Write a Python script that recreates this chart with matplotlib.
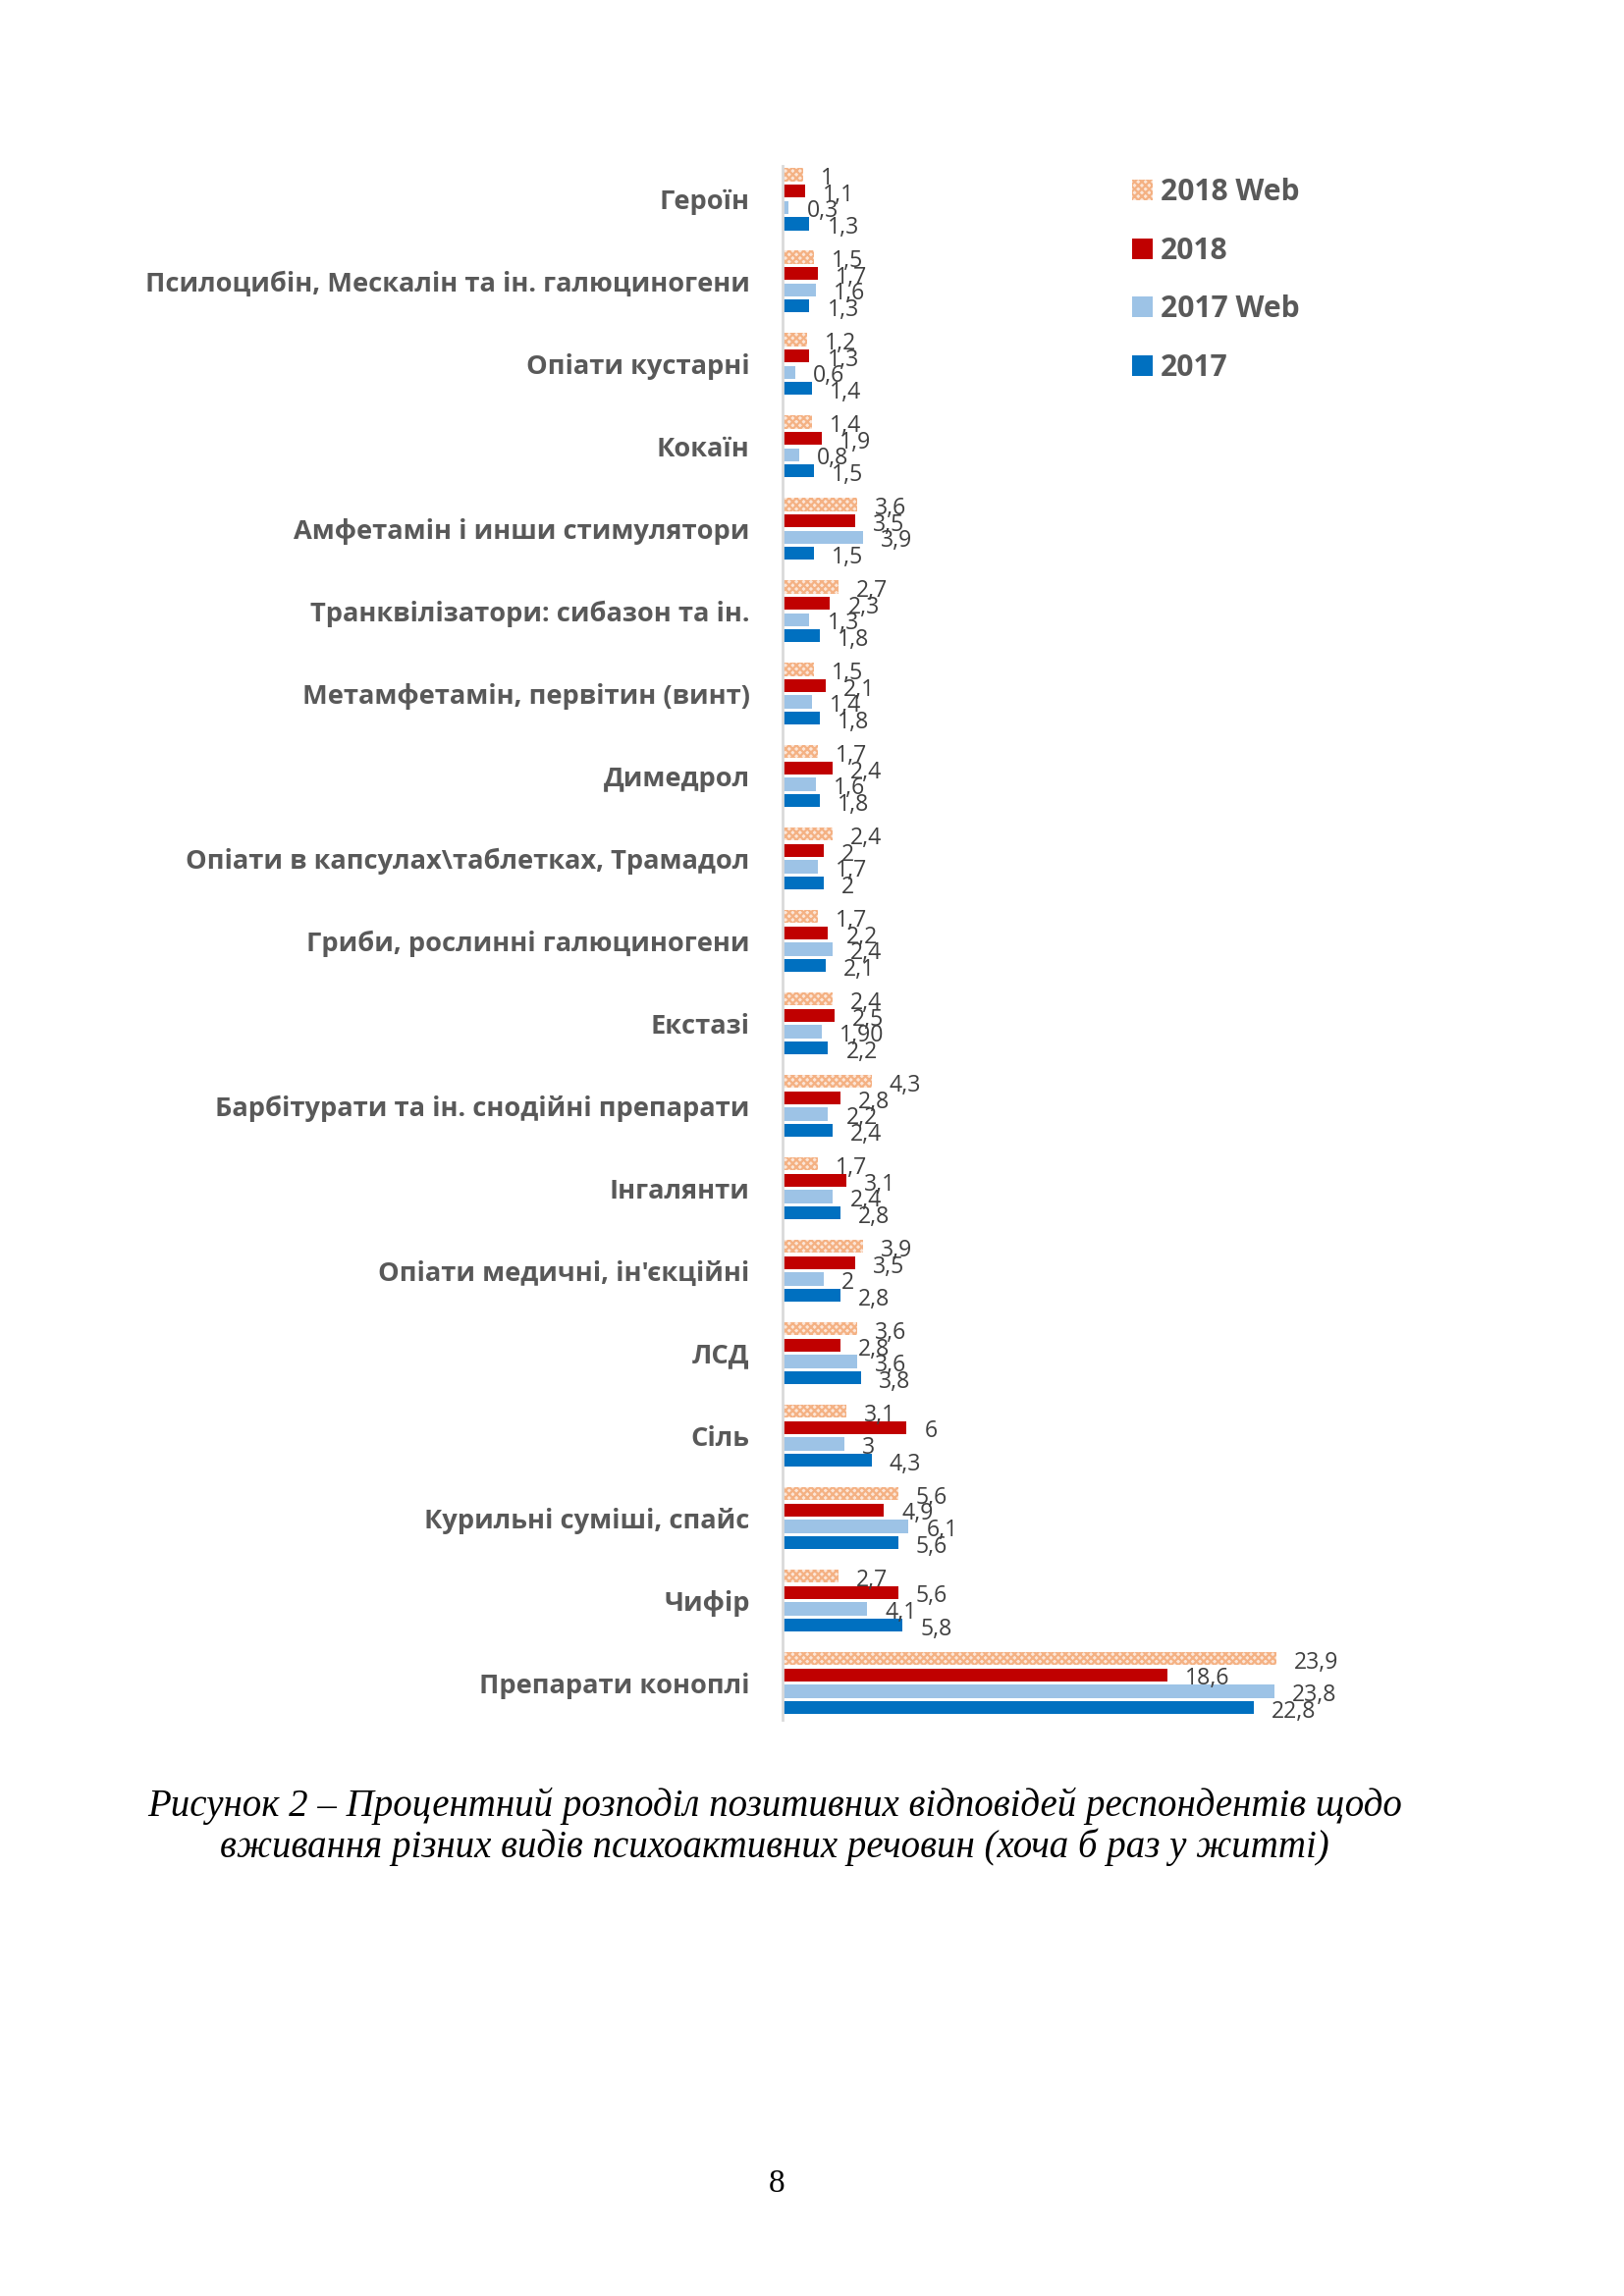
import matplotlib.pyplot as plt
import numpy as np

plt.rcParams['font.family'] = ['Open Sans', 'DejaVu Sans']
plt.rcParams['hatch.linewidth'] = 0.8

categories = [
    'Героїн',
    'Псилоцибін, Мескалін та ін. галюциногени',
    'Опіати кустарні',
    'Кокаїн',
    'Амфетамін і инши стимулятори',
    'Транквілізатори: сибазон та ін.',
    'Метамфетамін, первітин (винт)',
    'Димедрол',
    'Опіати в капсулах\\таблетках, Трамадол',
    'Гриби, рослинні галюциногени',
    'Екстазі',
    'Барбітурати та ін. снодійні препарати',
    'Інгалянти',
    "Опіати медичні, ін'єкційні",
    'ЛСД',
    'Сіль',
    'Курильні суміші, спайс',
    'Чифір',
    'Препарати коноплі',
]

web_2018 = [1, 1.5, 1.2, 1.4, 3.6, 2.7, 1.5, 1.7, 2.4, 1.7, 2.4, 4.3, 1.7, 3.9, 3.6, 3.1, 5.6, 2.7, 23.9]
y_2018 = [1.1, 1.7, 1.3, 1.9, 3.5, 2.3, 2.1, 2.4, 2, 2.2, 2.5, 2.8, 3.1, 3.5, 2.8, 6, 4.9, 5.6, 18.6]
web_2017 = [0.3, 1.6, 0.6, 0.8, 3.9, 1.3, 1.4, 1.6, 1.7, 2.4, 1.9, 2.2, 2.4, 2, 3.6, 3, 6.1, 4.1, 23.8]
y_2017 = [1.3, 1.3, 1.4, 1.5, 1.5, 1.8, 1.8, 1.8, 2, 2.1, 2.2, 2.4, 2.8, 2.8, 3.8, 4.3, 5.6, 5.8, 22.8]

series_names = ['2018 Web', '2018', '2017 Web', '2017']
colors = ['#F8CBAD', '#C00000', '#9DC3E6', '#0070C0']
# labels printed as in the source (one value shown as "1,90")
label_override = {(2, 10): '1,90'}

def fmt(v):
    return ('%g' % v).replace('.', ',')

fig = plt.figure(figsize=(8.27, 11.695), dpi=200)
ax = fig.add_axes([0.4819, 0.2508, 0.40, 0.6768])

y = np.arange(len(categories))
pitch = 0.198
height = 0.158
series = [web_2018, y_2018, web_2017, y_2017]
handles = []
for i, vals in enumerate(series):
    pos = y + (i - 1.5) * pitch
    if i == 0:
        b = ax.barh(pos, vals, height=height, color='#FCE6D8', edgecolor='#F4B183',
                    hatch='xxxxxxxxx', linewidth=0, label=series_names[i])
    else:
        b = ax.barh(pos, vals, height=height, color=colors[i], linewidth=0, label=series_names[i])
    handles.append(b)
    for j, v in enumerate(vals):
        txt = label_override.get((i, j), fmt(v))
        ax.annotate(txt, (v, pos[j]), xytext=(6.5, -1.5), textcoords='offset points',
                    va='center', ha='left', fontsize=8.3, color='#404040')

ax.set_xlim(0, 661.6 / 21.05)
ax.set_ylim(18.45, -0.4)
ax.set_yticks(y)
ax.set_yticklabels(categories, fontsize=9.8, fontweight='bold', color='#595959')
ax.tick_params(axis='y', length=0, pad=12)
ax.set_xticks([])
for s in ['top', 'right', 'bottom']:
    ax.spines[s].set_visible(False)
ax.spines['left'].set_color('#D9D9D9')
ax.spines['left'].set_linewidth(1.0)

leg = fig.legend(handles=handles, loc='upper left', bbox_to_anchor=(0.681, 0.934),
                 frameon=False, handlelength=0.7, handleheight=0.7, handletextpad=0.25,
                 labelspacing=0.98, prop={'size': 10.8, 'weight': 'bold'})
for t in leg.get_texts():
    t.set_color('#595959')

fig.text(0.477, 0.2135, 'Рисунок 2 – Процентний розподіл позитивних відповідей респондентів щодо',
         ha='center', va='center', fontsize=14.0, style='italic', family='Liberation Serif')
fig.text(0.477, 0.1955, 'вживання різних видів психоактивних речовин (хоча б раз у житті)',
         ha='center', va='center', fontsize=14.0, style='italic', family='Liberation Serif')
fig.text(0.478, 0.049, '8', ha='center', va='center', fontsize=12, family='Liberation Serif')

fig.savefig('out.png', dpi=200)
